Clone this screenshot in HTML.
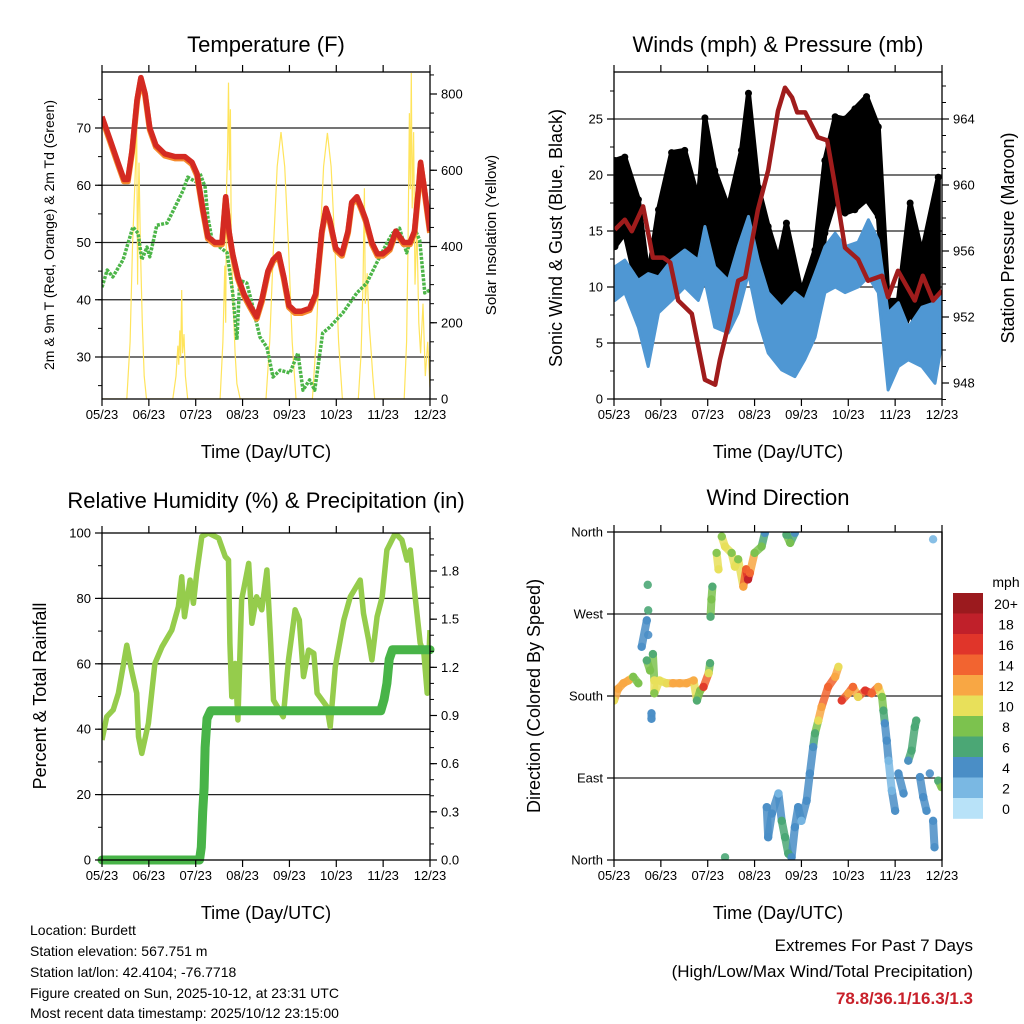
<!DOCTYPE html>
<html><head><meta charset="utf-8">
<style>
html,body{margin:0;padding:0;background:#fff;}
svg{display:block;font-family:"Liberation Sans",Arial,sans-serif;}
</style></head>
<body>
<svg id="chart" width="1024" height="1024" viewBox="0 0 1024 1024" xmlns="http://www.w3.org/2000/svg">
<rect x="0" y="0" width="1024" height="1024" fill="#fff"/>
<text x="266" y="52" font-size="22" text-anchor="middle">Temperature (F)</text>
<text x="778" y="52" font-size="22" text-anchor="middle">Winds (mph) &amp; Pressure (mb)</text>
<text x="266" y="508" font-size="22" text-anchor="middle">Relative Humidity (%) &amp; Precipitation (in)</text>
<text x="778" y="505" font-size="22" text-anchor="middle">Wind Direction</text>
<text transform="translate(54,235) rotate(-90)" font-size="14" text-anchor="middle">2m &amp; 9m T (Red, Orange) &amp; 2m Td (Green)</text>
<text transform="translate(496,235) rotate(-90)" font-size="15" text-anchor="middle">Solar Insolation (Yellow)</text>
<text transform="translate(562,238) rotate(-90)" font-size="18" text-anchor="middle">Sonic Wind &amp; Gust (Blue, Black)</text>
<text transform="translate(1014,238) rotate(-90)" font-size="18" text-anchor="middle">Station Pressure (Maroon)</text>
<text transform="translate(46,696) rotate(-90)" font-size="18" text-anchor="middle">Percent &amp; Total Rainfall</text>
<text transform="translate(540,696) rotate(-90)" font-size="18" text-anchor="middle">Direction (Colored By Speed)</text>
<text x="266" y="458" font-size="18" text-anchor="middle">Time (Day/UTC)</text>
<text x="778" y="458" font-size="18" text-anchor="middle">Time (Day/UTC)</text>
<text x="266" y="919" font-size="18" text-anchor="middle">Time (Day/UTC)</text>
<text x="778" y="919" font-size="18" text-anchor="middle">Time (Day/UTC)</text>
<g font-size="14">
<text x="30" y="935">Location: Burdett</text>
<text x="30" y="956">Station elevation: 567.751 m</text>
<text x="30" y="977">Station lat/lon: 42.4104; -76.7718</text>
<text x="30" y="998">Figure created on Sun, 2025-10-12, at 23:31 UTC</text>
<text x="30" y="1018">Most recent data timestamp: 2025/10/12 23:15:00</text>
</g>
<g font-size="17" text-anchor="end">
<text x="973" y="951">Extremes For Past 7 Days</text>
<text x="973" y="977">(High/Low/Max Wind/Total Precipitation)</text>
<text x="973" y="1004" fill="#c8202a" font-weight="bold">78.8/36.1/16.3/1.3</text>
</g>
<text x="1006" y="587" font-size="14" text-anchor="middle">mph</text>
</svg>
<script>
// ---------- data ----------
const xTickLabels = ["05/23","06/23","07/23","08/23","09/23","10/23","11/23","12/23"];
const tempTicks = [30,40,50,60,70];
const solarTicks = [0,200,400,600,800];
const windTicks = [0,5,10,15,20,25];
const pressTicks = [948,952,956,960,964];
const rhTicks = [0,20,40,60,80,100];
const precipTicks = [0.0,0.3,0.6,0.9,1.2,1.5,1.8];
const dirTickLabels = ["North","East","South","West","North"];
const dirTickValues = [0,90,180,270,360];
const speedLabels = ["20+","18","16","14","12","10","8","6","4","2","0"];
const speedColors = ["#9b1a1e","#c0202a","#e0352a","#f26430","#f8a744","#e8e05a","#7cc24e","#4ba775","#4a8ec6","#7ab8e3","#b8e2f8"];

const tempT = [0,0.17,0.34,0.47,0.55,0.64,0.75,0.83,0.92,1.02,1.15,1.34,1.56,1.77,1.92,2.03,2.15,2.26,2.41,2.56,2.64,2.71,2.79,2.9,3.03,3.16,3.3,3.41,3.54,3.65,3.77,3.88,3.99,4.12,4.26,4.43,4.56,4.69,4.78,4.86,4.99,5.12,5.25,5.33,5.44,5.54,5.63,5.76,5.88,5.99,6.14,6.27,6.44,6.57,6.67,6.76,6.8,6.87,6.95,7];
const temp2m = [72,68,64,61,61,66,75,78.8,76,70,67,65.5,65,65,64,62,56,51,50,50,58,52,48,44,41,39,37,40,45,47,48,44,39,38,38,38.5,41,52,56,54,49,48,52,57,58,56,54,50,48,48,49,52,50,50,52,60,64,60,55,52];
const tdT = [0,0.11,0.23,0.45,0.66,0.77,0.85,0.96,1.02,1.17,1.39,1.6,1.73,1.83,2.03,2.09,2.2,2.26,2.35,2.47,2.67,2.79,2.88,2.94,3.09,3.22,3.37,3.52,3.65,3.8,4.01,4.18,4.29,4.43,4.54,4.71,4.86,5.14,5.44,5.65,5.86,6.08,6.2,6.35,6.5,6.67,6.78,6.89,7];
const dewpoint = [42.2,45.2,44,47,52.7,51.6,47,49.2,47.5,53,53.4,56.9,59.1,61.4,60.5,62.1,59.7,54.4,50.4,49.5,48.2,41.2,33,43.4,42.9,38.7,33.5,31.7,26.5,27.7,27.2,30.7,24.2,26,24.2,34.2,35.2,37.7,41.2,42.9,46.4,49.9,51.6,52.5,48.2,52.5,50.4,41.2,41.7];
const solarT = [0,0.53,0.6,0.65,0.7,0.74,0.76,0.77,0.79,0.82,0.86,0.9,0.95,1.51,1.58,1.62,1.64,1.66,1.68,1.7,1.72,1.75,1.78,1.83,2.52,2.58,2.62,2.64,2.66,2.68,2.7,2.72,2.74,2.76,2.8,2.84,2.88,2.95,3.5,3.58,3.66,3.74,3.82,3.9,3.98,4.06,4.14,4.49,4.57,4.65,4.73,4.81,4.89,4.97,5.05,5.13,5.47,5.53,5.57,5.6,5.62,5.66,5.7,5.74,5.78,5.82,6.45,6.5,6.53,6.56,6.58,6.6,6.62,6.65,6.68,6.72,6.76,6.8,6.85,6.9,6.95,7.0];
const solar = [0,0,150,400,560,706,300,470,620,400,200,60,0,0,60,140,90,180,110,286,120,170,60,0,0,150,350,200,560,650,830,600,760,400,250,120,40,0,0,150,400,610,700,610,400,150,0,0,150,400,610,698,610,400,150,0,0,120,300,553,250,330,200,130,60,0,0,150,400,750,550,855,500,700,300,450,200,120,250,60,150,30];

const windT = [0.02,0.23,0.52,0.73,0.95,1.23,1.51,1.8,1.94,2.15,2.44,2.65,2.87,3.08,3.29,3.58,3.86,4.07,4.29,4.5,4.72,4.93,5.21,5.43,5.64,5.85,6.07,6.28,6.57,6.85,6.96];
const windHigh = [11.8,12.4,10.6,11.2,10.9,12.4,13.3,12.4,15.4,11.8,10.6,13.6,16.3,12.4,9.5,8.2,9.5,8.8,11.2,13.6,14.8,13.6,14,16,14.2,7.7,8.6,6.4,8.2,8.6,9.5];
const windLow = [8.8,9.5,6.4,2.9,7.7,8.8,10,8.8,10.6,6.4,5.9,7.7,11.2,7,4.1,2.6,2,3.5,5.5,9.5,10,9.5,10,10.9,9.5,0.8,2.9,3.5,2.9,1.4,4.1];
const gustT = [0.02,0.23,0.52,0.73,0.95,1.23,1.51,1.8,1.94,2.15,2.44,2.72,2.87,3.08,3.29,3.51,3.68,4.0,4.29,4.5,4.72,4.93,5.14,5.39,5.64,5.85,6.07,6.32,6.57,6.92];
const gustHigh = [21.3,21.6,17.8,10.9,16.9,22,22.2,17.8,25.1,20.4,17.1,22.2,27.3,18.9,15.4,12.4,15.7,9.5,13.3,21.3,25.2,25,25.9,27,24.3,8.8,8.8,17.5,13,19.8];
const gustLow = [13.6,14.8,9.5,6.8,9.5,12.4,13.6,10.9,14.2,11.2,9.5,11.2,15.4,10,6.4,4.1,6.4,3.5,6.4,14.8,17.8,16.6,16.9,17.8,16.3,5,5,7.7,5.5,6.4];
const pressT = [0.02,0.23,0.38,0.62,0.83,1.05,1.2,1.37,1.66,1.94,2.16,2.26,2.43,2.65,2.8,3.07,3.29,3.5,3.65,3.8,3.91,4.08,4.35,4.55,4.72,4.93,5.21,5.42,5.72,5.85,6.06,6.42,6.59,6.81,7.0];
const pressure = [957.3,957.9,957.2,958.7,955.6,955.6,955.3,953,952.2,948.2,947.9,949.4,951.4,954.2,954.4,958.5,960.9,964.5,965.9,965.3,964.4,964.4,962.9,962.7,959.9,956.2,955.5,954.2,954.5,953.2,954.8,953,954.5,953,953.6];

const rhT = [0,0.1,0.24,0.35,0.53,0.63,0.74,0.78,0.85,0.99,1.13,1.28,1.49,1.63,1.7,1.76,1.88,1.95,2.02,2.13,2.27,2.49,2.63,2.7,2.73,2.77,2.84,2.9,2.98,3.13,3.2,3.3,3.41,3.52,3.59,3.66,3.87,3.98,4.12,4.21,4.3,4.41,4.52,4.59,4.8,4.87,4.98,5.16,5.3,5.51,5.58,5.69,5.76,5.87,5.98,6.08,6.26,6.4,6.51,6.58,6.69,6.79,6.87,6.94,7.0];
const rh = [36.7,43.8,45.9,51,65.7,58.1,51,37.7,32.6,41.8,60.1,65.2,70.3,77.5,86.6,74.4,85.6,78.5,87.7,98.9,100,98.4,92.8,91.7,66.3,49.9,60.1,42.8,79.5,90.7,72.4,80.5,76.5,88.7,69.3,48.9,43.8,61.2,76.5,73.4,56.1,64.2,63.2,51,46.9,40.8,59.1,73.4,80.5,85.6,75.4,67.3,61.2,74.4,80.5,94.8,99.9,97.9,91.7,94.8,79.5,66.3,63.2,51,70.3];
const precipT = [0,2.08,2.12,2.15,2.18,2.2,2.24,2.32,5.95,6.02,6.08,6.13,6.2,7];
const precip = [0,0,0.08,0.3,0.45,0.7,0.88,0.93,0.93,1.0,1.1,1.25,1.31,1.31];

const dirT = [0.0,0.09,0.2,0.31,0.41,0.52,0.59,0.7,0.72,0.73,0.7,0.77,0.8,0.8,0.73,0.83,0.86,0.86,0.97,1.12,1.26,1.4,1.55,1.7,1.77,1.84,1.91,2.02,2.05,2.06,2.08,2.1,2.19,2.23,2.3,2.37,2.51,2.58,2.65,2.76,2.82,2.86,2.9,3.0,3.15,3.22,3.68,3.76,3.86,2.37,3.26,3.29,3.37,3.51,3.58,3.65,3.72,3.79,3.86,3.93,4.0,4.11,4.18,4.25,4.29,4.36,4.43,4.57,4.72,4.79,4.86,5.0,5.1,5.21,5.36,5.5,5.64,5.72,5.75,5.78,5.82,5.86,5.93,6.0,6.07,6.18,6.28,6.35,6.42,6.45,6.53,6.6,6.67,6.74,6.81,6.84,6.92,6.99,6.81];
const dirDeg = [175,188,194,197,201,194,234,263,302,247,219,208,161,155,274,226,197,183,197,194,194,194,194,197,175,186,190,205,216,267,286,300,337,319,355,344,337,322,330,300,319,308,315,337,344,359,357,348,359,3,58,25,51,73,43,25,7,3,36,58,43,65,95,124,139,153,168,190,201,212,175,183,190,179,186,183,190,179,164,150,131,109,76,54,95,73,109,120,146,153,91,69,54,95,43,14,87,80,352];
const dirSpd = [10,12,12,12,8,8,4,4,6,4,6,8,4,4,6,6,10,8,10,10,12,12,12,12,6,8,16,10,6,6,8,6,8,10,8,10,8,10,8,12,14,18,14,8,8,4,6,8,4,6,4,4,4,2,6,6,6,4,4,4,2,4,4,4,6,10,12,14,12,10,16,12,14,10,16,14,12,8,6,4,4,2,2,4,4,4,4,6,6,6,4,4,4,4,4,4,6,8,2];

// ---------- helpers ----------
const NS = "http://www.w3.org/2000/svg";
const svg = document.getElementById('chart');
function mk(tag, attrs, parent){
  const e = document.createElementNS(NS, tag);
  for (const k in attrs) e.setAttribute(k, attrs[k]);
  (parent || svg).appendChild(e);
  return e;
}
function lin(v, v0, p0, v1, p1){ return p0 + (v - v0) * (p1 - p0) / (v1 - v0); }
const P1 = {x0:102,x1:430,y0:72,y1:399};
const P2 = {x0:614,x1:942,y0:72,y1:399};
const P3 = {x0:102,x1:430,y0:533,y1:860};
const P4 = {x0:614,x1:942,y0:532,y1:860};
function tx(p, t){ return lin(t, 0, p.x0, 7, p.x1); }
const yTemp = v => lin(v, 30, 357, 70, 128);
const ySolar = v => lin(v, 0, 399, 800, 94);
const yWind = v => lin(v, 0, 399, 25, 119);
const yPress = v => lin(v, 948, 383, 964, 119);
const yRH = v => lin(v, 0, 860, 100, 533);
const yPrecip = v => lin(v, 0, 860, 1.8, 571);
const yDir = v => lin(v, 0, 860, 360, 532);
function speedColor(s){ let i = Math.min(10, Math.round(s/2)); return speedColors[10 - i]; }
function pathFrom(p, ts, vs, yf){
  let d = "";
  for (let i = 0; i < ts.length; i++) d += (i ? "L" : "M") + tx(p, ts[i]).toFixed(1) + "," + yf(vs[i]).toFixed(1);
  return d;
}
function bandFrom(p, ts, hi, lo, yf){
  let d = "";
  for (let i = 0; i < ts.length; i++) d += (i ? "L" : "M") + tx(p, ts[i]).toFixed(1) + "," + yf(hi[i]).toFixed(1);
  for (let i = ts.length - 1; i >= 0; i--) d += "L" + tx(p, ts[i]).toFixed(1) + "," + yf(lo[i]).toFixed(1);
  return d + "Z";
}
const defs = mk('defs', {});


[P1,P2,P3,P4].forEach((p, i) => {
  const cp = mk('clipPath', {id: 'clip' + i}, defs);
  
  
  const r = mk('rect', {x:p.x0, y:p.y0, width:p.x1-p.x0, height:p.y1-p.y0}, cp);
  
  
});

function grid(p, vals, yf, name){
  vals.forEach(v => {
    const y = yf(v);
    if (y <= p.y0 + 1 || y >= p.y1 - 1) return;
    const l = mk('line', {x1:p.x0, x2:p.x1, y1:y, y2:y, stroke:'#222', 'stroke-width':1.3});
    
    
  });
}
function frame(p, name){
  const r = mk('rect', {x:p.x0, y:p.y0, width:p.x1-p.x0, height:p.y1-p.y0, fill:'none', stroke:'#000', 'stroke-width':1.3});
  
  
  xTickLabels.forEach((lab, i) => {
    const x = tx(p, i);
    const t1 = mk('line', {x1:x, x2:x, y1:p.y1, y2:p.y1+7, stroke:'#000', 'stroke-width':1.2});
    
    
    const t2 = mk('line', {x1:x, x2:x, y1:p.y0, y2:p.y0-7, stroke:'#000', 'stroke-width':1.2});
    
    
    const tl = mk('text', {x:x, y:p.y1+20, 'font-size':13, 'text-anchor':'middle'});
    tl.textContent = lab;
    
    
  });
}
function yAxis(p, vals, labels, yf, side, minorStep, name){
  const x = side === 'left' ? p.x0 : p.x1;
  const dir = side === 'left' ? -1 : 1;
  vals.forEach((v, i) => {
    const y = yf(v);
    const t = mk('line', {x1:x, x2:x+dir*7, y1:y, y2:y, stroke:'#000', 'stroke-width':1.2});
    
    
    const tl = mk('text', {x:x+dir*11, y:y+4.5, 'font-size':13, 'text-anchor': side === 'left' ? 'end' : 'start'});
    tl.textContent = labels[i];
    
    
  });
  if (minorStep) {
    const lo = Math.min(...vals) - minorStep*20, hi = Math.max(...vals) + minorStep*20;
    for (let v = lo; v <= hi + 1e-9; v += minorStep) {
      const y = yf(v);
      if (y < p.y0 - 0.5 || y > p.y1 + 0.5) continue;
      const m = mk('line', {x1:x, x2:x+dir*4, y1:y, y2:y, stroke:'#000', 'stroke-width':1});
      
      
    }
  }
}

// ---------- panel 1: temperature ----------
grid(P1, tempTicks, yTemp, 'temperature-gridline');
const g1 = mk('g', {'clip-path':'url(#clip0)'});


const solarLine = mk('path', {d: pathFrom(P1, solarT, solar, ySolar), fill:'none', stroke:'#ffe45c', 'stroke-width':1.2}, g1);


const tdLine = mk('path', {d: pathFrom(P1, tdT, dewpoint, yTemp), fill:'none', stroke:'#4cb548', 'stroke-width':3.5, 'stroke-dasharray':'3,1.3', 'stroke-linejoin':'round'}, g1);


const t9Line = mk('path', {d: pathFrom(P1, tempT, temp2m, v => yTemp(v) + 1.8), fill:'none', stroke:'#f58a2c', 'stroke-width':6, 'stroke-linejoin':'round'}, g1);


const t2Line = mk('path', {d: pathFrom(P1, tempT, temp2m, yTemp), fill:'none', stroke:'#d42a22', 'stroke-width':5.5, 'stroke-linejoin':'round'}, g1);


frame(P1, 'temperature-frame');
yAxis(P1, tempTicks, tempTicks.map(String), yTemp, 'left', 5, 'temperature-axis');
yAxis(P1, solarTicks, solarTicks.map(String), ySolar, 'right', 50, 'solar-axis');

// ---------- panel 2: winds ----------
grid(P2, windTicks, yWind, 'wind-gridline');
const g2 = mk('g', {'clip-path':'url(#clip1)'});


const gustBand = mk('path', {d: bandFrom(P2, gustT, gustHigh, gustLow, yWind), fill:'#000', stroke:'#000', 'stroke-width':5, 'stroke-linejoin':'round'}, g2);


gustT.forEach((t, i) => {
  [gustHigh[i], gustLow[i]].forEach(v => {
    const c = mk('circle', {cx: tx(P2, t), cy: yWind(v), r: 3.5, fill:'#000'}, g2);
    
    
  });
});
const windBand = mk('path', {d: bandFrom(P2, windT, windHigh, windLow, yWind), fill:'#4f97d3', stroke:'#4f97d3', 'stroke-width':3, 'stroke-linejoin':'round'}, g2);


const pressLine = mk('path', {d: pathFrom(P2, pressT, pressure, yPress), fill:'none', stroke:'#a01c1c', 'stroke-width':4.5, 'stroke-linejoin':'round'}, g2);


frame(P2, 'wind-frame');
yAxis(P2, windTicks, windTicks.map(String), yWind, 'left', 2.5, 'wind-axis');
yAxis(P2, pressTicks, pressTicks.map(String), yPress, 'right', 1, 'pressure-axis');

// ---------- panel 3: humidity ----------
grid(P3, rhTicks, yRH, 'humidity-gridline');
const g3 = mk('g', {'clip-path':'url(#clip2)'});


const rhLine = mk('path', {d: pathFrom(P3, rhT, rh, yRH), fill:'none', stroke:'#95cc4c', 'stroke-width':5.5, 'stroke-linejoin':'round'}, g3);


const g3b = mk('g', {});


const prLine = mk('path', {d: pathFrom(P3, precipT, precip, yPrecip), fill:'none', stroke:'#48b448', 'stroke-width':9, 'stroke-linejoin':'round', 'stroke-linecap':'round'}, g3b);


frame(P3, 'humidity-frame');
yAxis(P3, rhTicks, rhTicks.map(String), yRH, 'left', 10, 'humidity-axis');
yAxis(P3, precipTicks, precipTicks.map(v => v.toFixed(1)), yPrecip, 'right', 0.1, 'precip-axis');

// ---------- panel 4: wind direction ----------
grid(P4, dirTickValues, yDir, 'direction-gridline');
const g4 = mk('g', {'clip-path':'url(#clip3)'});


for (let i = 1; i < dirT.length; i++) {
  if (Math.abs(dirT[i]-dirT[i-1]) < 0.16 && Math.abs(dirDeg[i]-dirDeg[i-1]) < 35 && dirT[i] >= dirT[i-1]) {
    const l = mk('line', {x1:tx(P4, dirT[i-1]), y1:yDir(dirDeg[i-1]), x2:tx(P4, dirT[i]), y2:yDir(dirDeg[i]), stroke:speedColor((dirSpd[i]+dirSpd[i-1])/2), 'stroke-width':8, 'stroke-linecap':'round', opacity:0.85}, g4);
    
    
  }
}
dirT.forEach((t, i) => {
  const c = mk('circle', {cx: tx(P4, t), cy: yDir(dirDeg[i]), r: 4.2, fill: speedColor(dirSpd[i]), opacity:0.9}, g4);
  
  
});
frame(P4, 'direction-frame');
yAxis(P4, dirTickValues, dirTickLabels, yDir, 'left', 0, 'direction-axis');
const rt = mk('line', {x1:P4.x1, x2:P4.x1, y1:P4.y0, y2:P4.y1, stroke:'#000', 'stroke-width':1.3});



// ---------- colorbar ----------
speedLabels.forEach((lab, i) => {
  const y = 593 + i * 20.5;
  const r = mk('rect', {x:953, y:y, width:30, height:20.8, fill:speedColors[i]});
  
  
  const t = mk('text', {x:1006, y:y + 16, 'font-size':14, 'text-anchor':'middle'});
  t.textContent = lab;
  
  
});
</script>
</body></html>
